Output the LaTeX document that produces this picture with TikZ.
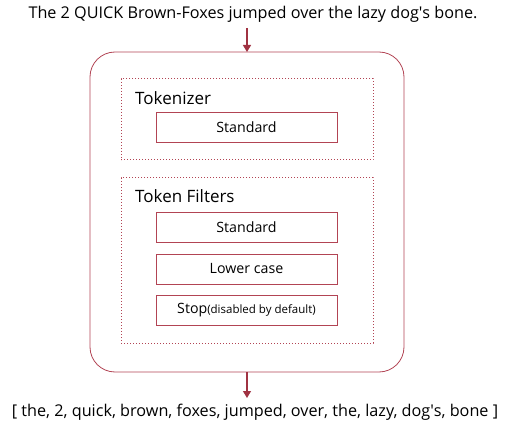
\documentclass[tikz,border=0pt]{standalone}
\usepackage{fontspec}
\setmainfont{Open Sans}
\usepackage{tikz}
\usetikzlibrary{positioning,shapes,arrows.meta}
\definecolor{boxred}{RGB}{178,68,84}
\definecolor{arrowred}{RGB}{160,50,66}
\tikzset{
    analyzer/.style={draw=boxred, line width=0.8pt, rounded corners=25pt, minimum width=314pt, minimum height=320pt, inner sep=0pt, outer sep=0pt},
    stage/.style={draw=boxred, dotted, line width=1pt, minimum width=252pt, inner sep=0pt, outer sep=0pt},
    stage label/.style={anchor=west, font=\fontsize{17}{20}\selectfont, inner sep=0pt},
    filter/.style={draw=boxred, line width=0.8pt, minimum width=181pt, minimum height=30pt, inner sep=0pt, outer sep=0pt, font=\fontsize{14.2}{17}\selectfont},
    flow/.style={draw=arrowred, line width=1.2pt, -{Triangle[width=8pt,length=7pt]}},
    phrase/.style={font=\fontsize{16.2}{19}\selectfont, inner sep=0pt}
}

\begin{document}
\begin{tikzpicture}[x=1pt, y=-1pt]
    \useasboundingbox (0,0) rectangle (507,428);

    \node[phrase] (input) at (253,14) {The 2 QUICK Brown-Foxes jumped over the lazy dog\textquotesingle s bone.};
    \node[analyzer] (analyzer) at (247,212) {};

    \node[stage, minimum height=81pt] (tokenizer) at (247,119.5) {};
    \node[stage label] (tokenizer label) at (135,98) {Tokenizer};
    \node[filter] (tok standard) at (246.5,127) {Standard};

    \node[stage, minimum height=165pt] (filters) at (247,260.5) {};
    \node[stage label] (filters label) at (135,196) {Token Filters};
    \node[filter] (standard) at (246.5,227.5) {Standard};
    \node[filter] (lowercase) at (246.5,269) {Lower case};
    \node[filter] (stop) at (246.5,310.5) {Stop{\fontsize{11.5}{14}\selectfont(disabled by default)}};

    \node[phrase] (output) at (255,412) {[ the, 2, quick, brown, foxes, jumped, over, the, lazy, dog\textquotesingle s, bone ]};

    \draw[flow] (analyzer.north |- 0,28) -- (analyzer.north);
    \draw[flow] (analyzer.south) -- (analyzer.south |- 0,398);
\end{tikzpicture}
\end{document}
